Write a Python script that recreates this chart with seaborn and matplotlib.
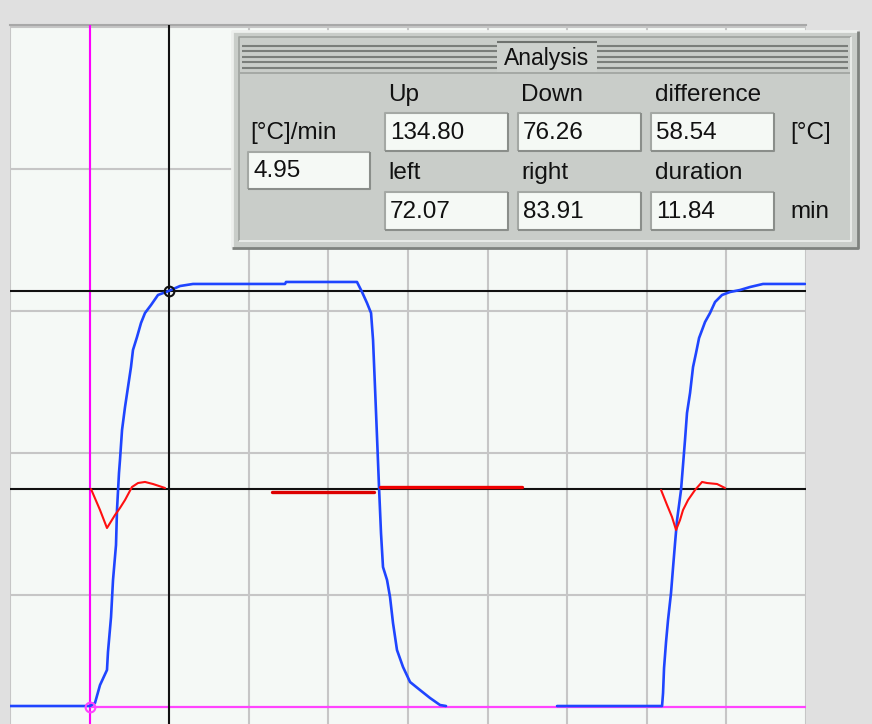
import matplotlib
matplotlib.use("Agg")
import numpy as np
import pandas as pd
import matplotlib.pyplot as plt
from matplotlib.patches import Rectangle
import seaborn as sns

# Analysis values (cursor readings)
up_temp = 134.80
down_temp = 76.26
left_time = 72.07
right_time = 83.91
rate_value = 4.95
rate_zero = 106.94   # temperature level where the rate trace is drawn as 0

# temperature trace, first cycle (min, degC)
t_cycle1 = [60.00, 72.06, 72.81, 73.57, 74.62, 74.77, 75.23, 75.53, 75.98, 76.13,
            76.43, 76.58, 76.89, 77.34, 77.79, 78.24, 78.54, 79.15, 79.75, 80.35,
            81.26, 82.31, 83.91, 85.63, 87.59, 101.46, 101.61, 112.31, 113.07, 113.82,
            114.43, 114.73, 115.03, 115.33, 115.63, 115.93, 116.23, 116.84, 117.29, 117.74,
            118.34, 119.25, 120.31, 121.81, 123.32, 124.83, 125.73]
T_cycle1 = [76.40, 76.40, 76.82, 79.35, 81.47, 84.00, 88.92, 94.13, 99.06, 103.98,
            109.19, 111.02, 115.24, 118.48, 121.29, 124.10, 126.50, 128.33, 130.30, 131.70,
            132.83, 134.24, 134.80, 135.50, 135.79, 135.79, 136.07, 136.07, 134.66, 133.11,
            131.70, 127.90, 121.15, 114.25, 107.22, 100.74, 95.96, 94.13, 91.74, 88.08,
            84.28, 81.89, 79.78, 78.65, 77.53, 76.54, 76.40]

# temperature trace, second cycle
t_cycle2 = [142.47, 158.30, 158.45, 158.60, 158.90, 159.20, 159.65, 159.95, 160.26, 160.56,
            161.16, 161.46, 161.76, 162.06, 162.52, 162.97, 163.42, 163.88, 164.33, 164.78,
            165.53, 166.29, 167.34, 168.55, 170.06, 171.56, 173.52, 179.85]
T_cycle2 = [76.40, 76.40, 78.23, 81.75, 85.41, 88.50, 92.30, 95.82, 99.34, 102.57,
            106.80, 110.31, 113.83, 117.63, 120.45, 124.10, 126.07, 128.19, 129.31, 130.44,
            131.70, 133.25, 134.24, 134.66, 134.94, 135.36, 135.79, 135.79]

# rate trace (degC/min) around the zero line
t_rate1 = [72.21, 73.57, 74.62, 75.83, 76.58, 77.34, 78.39, 79.30, 80.35, 81.56, 83.37]
r_rate1 = [0.00, -2.96, -5.49, -3.66, -2.67, -1.55, 0.28, 0.84, 0.99, 0.70, 0.14]
t_rate2 = [99.50, 114.88]
r_rate2 = [-0.42, -0.42]
t_rate3 = [115.78, 137.19]
r_rate3 = [0.28, 0.28]
t_rate4 = [158.15, 159.05, 159.80, 160.41, 161.01, 161.46, 162.22, 163.27, 164.33, 165.08,
           166.59, 167.79]
r_rate4 = [-0.14, -2.25, -3.94, -5.77, -4.36, -2.96, -1.55, -0.14, 0.99, 0.84,
           0.70, 0.14]

x_grid = list(range(60, 181, 12))
y_grid = list(range(72, 173, 20))
x_lim = (60, 180)
y_lim = (73.87, 172.23)

sns.set_style("white")
plt.rcParams["font.family"] = ["Liberation Sans", "DejaVu Sans"]

fig = plt.figure(figsize=(8.72, 7.24), dpi=100, facecolor="#e0e0e0")
ax = fig.add_axes([10 / 872, 0, 796 / 872, 1 - 25 / 724])
ax.set_facecolor("#f5f9f6")

blue = "#1f45ff"
for tt, TT in [(t_cycle1, T_cycle1), (t_cycle2, T_cycle2)]:
    df = pd.DataFrame({"time": tt, "temp": TT})
    sns.lineplot(data=df, x="time", y="temp", sort=False, estimator=None,
                 color=blue, lw=1.9, ax=ax, zorder=4)

# cursors
ax.axvline(left_time, color="#ff00ff", lw=1.5, zorder=3)
ax.hlines(down_temp, left_time, x_lim[1], color="#ff44ff", lw=1.6, zorder=3)
ax.axvline(right_time, color="#111111", lw=1.5, zorder=3)
ax.axhline(up_temp, color="#111111", lw=1.5, zorder=3)
ax.axhline(rate_zero, color="#111111", lw=1.5, zorder=3)
ax.plot([right_time], [up_temp], "o", ms=7, mfc="none", mec="#111111", mew=1.5, zorder=6)
ax.plot([left_time], [down_temp], "o", ms=7, mfc="none", mec="#ff44ff", mew=1.5, zorder=6)

ax.set_xticks(x_grid)
ax.set_yticks(y_grid)
ax.set_xlim(*x_lim)
ax.set_ylim(*y_lim)
ax.set_xlabel("")
ax.set_ylabel("")
ax.tick_params(length=0, labelbottom=False, labelleft=False)
ax.grid(True, color="#c6c6c6", lw=1.5)
for s in ["left", "right", "bottom"]:
    ax.spines[s].set_visible(False)
ax.spines["top"].set_color("#a8a8a8")
ax.spines["top"].set_linewidth(1.5)

# rate trace on its own scale, zero at rate_zero
ax2 = ax.twinx()
for tt, rr, w, c in [(t_rate1, r_rate1, 1.5, "#ff1010"), (t_rate2, r_rate2, 2.4, "#dd0000"),
                     (t_rate3, r_rate3, 2.4, "#ee0000"), (t_rate4, r_rate4, 1.5, "#ff1010")]:
    df = pd.DataFrame({"time": tt, "rate": rr})
    sns.lineplot(data=df, x="time", y="rate", sort=False, estimator=None,
                 color=c, lw=w, ax=ax2, zorder=5)
ax2.set_xlim(*x_lim)
ax2.set_ylim(y_lim[0] - rate_zero, y_lim[1] - rate_zero)
ax2.axis("off")

# Analysis panel (pixel coordinates overlay)
ov = fig.add_axes([0, 0, 1, 1], facecolor="none")
ov.set_xlim(0, 872)
ov.set_ylim(724, 0)
ov.axis("off")


def bevel(x0, y0, x1, y1, face, light, dark, lw=1.5, z=5):
    ov.add_patch(Rectangle((x0, y0), x1 - x0, y1 - y0, facecolor=face, edgecolor="none", zorder=z))
    ov.plot([x0, x0, x1], [y1, y0, y0], color=light, lw=lw, zorder=z + 0.1, solid_capstyle="butt")
    ov.plot([x0, x1, x1], [y1, y1, y0], color=dark, lw=lw, zorder=z + 0.1, solid_capstyle="butt")


panel = "#c9cdc9"
bevel(232, 31, 858, 248, panel, "#eef0ee", "#7e827e", lw=2)
bevel(239, 37, 851, 241, panel, "#9ea29e", "#eef0ee", lw=1.2, z=5.2)

# striped title bar
for y in np.arange(46, 69, 5.4):
    ov.hlines(y, 242, 848, color="#7a7e7a", lw=1.5, zorder=5.5)
ov.hlines(73, 240, 850, color="#9ea29e", lw=1.2, zorder=5.5)
ov.add_patch(Rectangle((497, 41), 100, 31, facecolor="#cdd1cd", edgecolor="none", zorder=5.6))
ov.hlines(41.5, 497, 597, color="#6e726e", lw=1.5, zorder=5.7)
ov.text(547, 58, "Analysis", ha="center", va="center", fontsize=16.5, color="#111111", zorder=6)

labels = [("Up", 388, 95), ("Down", 521, 95), ("difference", 655, 95),
          ("left", 388, 173), ("right", 521, 173), ("duration", 655, 173),
          ("[°C]/min", 250, 133), ("[°C]", 790, 133), ("min", 790, 212)]
for txt, x, y in labels:
    ov.text(x, y, txt, ha="left", va="center", fontsize=17.5, color="#111111", zorder=6)

fields = [(f"{up_temp:.2f}", 385, 113), (f"{down_temp:.2f}", 518, 113),
          (f"{up_temp - down_temp:.2f}", 651, 113),
          (f"{left_time:.2f}", 385, 192), (f"{right_time:.2f}", 518, 192),
          (f"{right_time - left_time:.2f}", 651, 192)]
for txt, x, y in fields:
    bevel(x, y, x + 123, y + 38, "#f5f9f5", "#a4a8a4", "#8a8e8a", lw=1.5, z=6)
    ov.text(x + 5, y + 20, txt, ha="left", va="center", fontsize=17.5, color="#111111", zorder=7)

bevel(248, 152, 370, 189, "#f5f9f5", "#a4a8a4", "#8a8e8a", lw=1.5, z=6)
ov.text(253, 171, f"{rate_value:.2f}", ha="left", va="center", fontsize=17.5, color="#111111", zorder=7)

fig.savefig("out.png", dpi=100, facecolor=fig.get_facecolor())
